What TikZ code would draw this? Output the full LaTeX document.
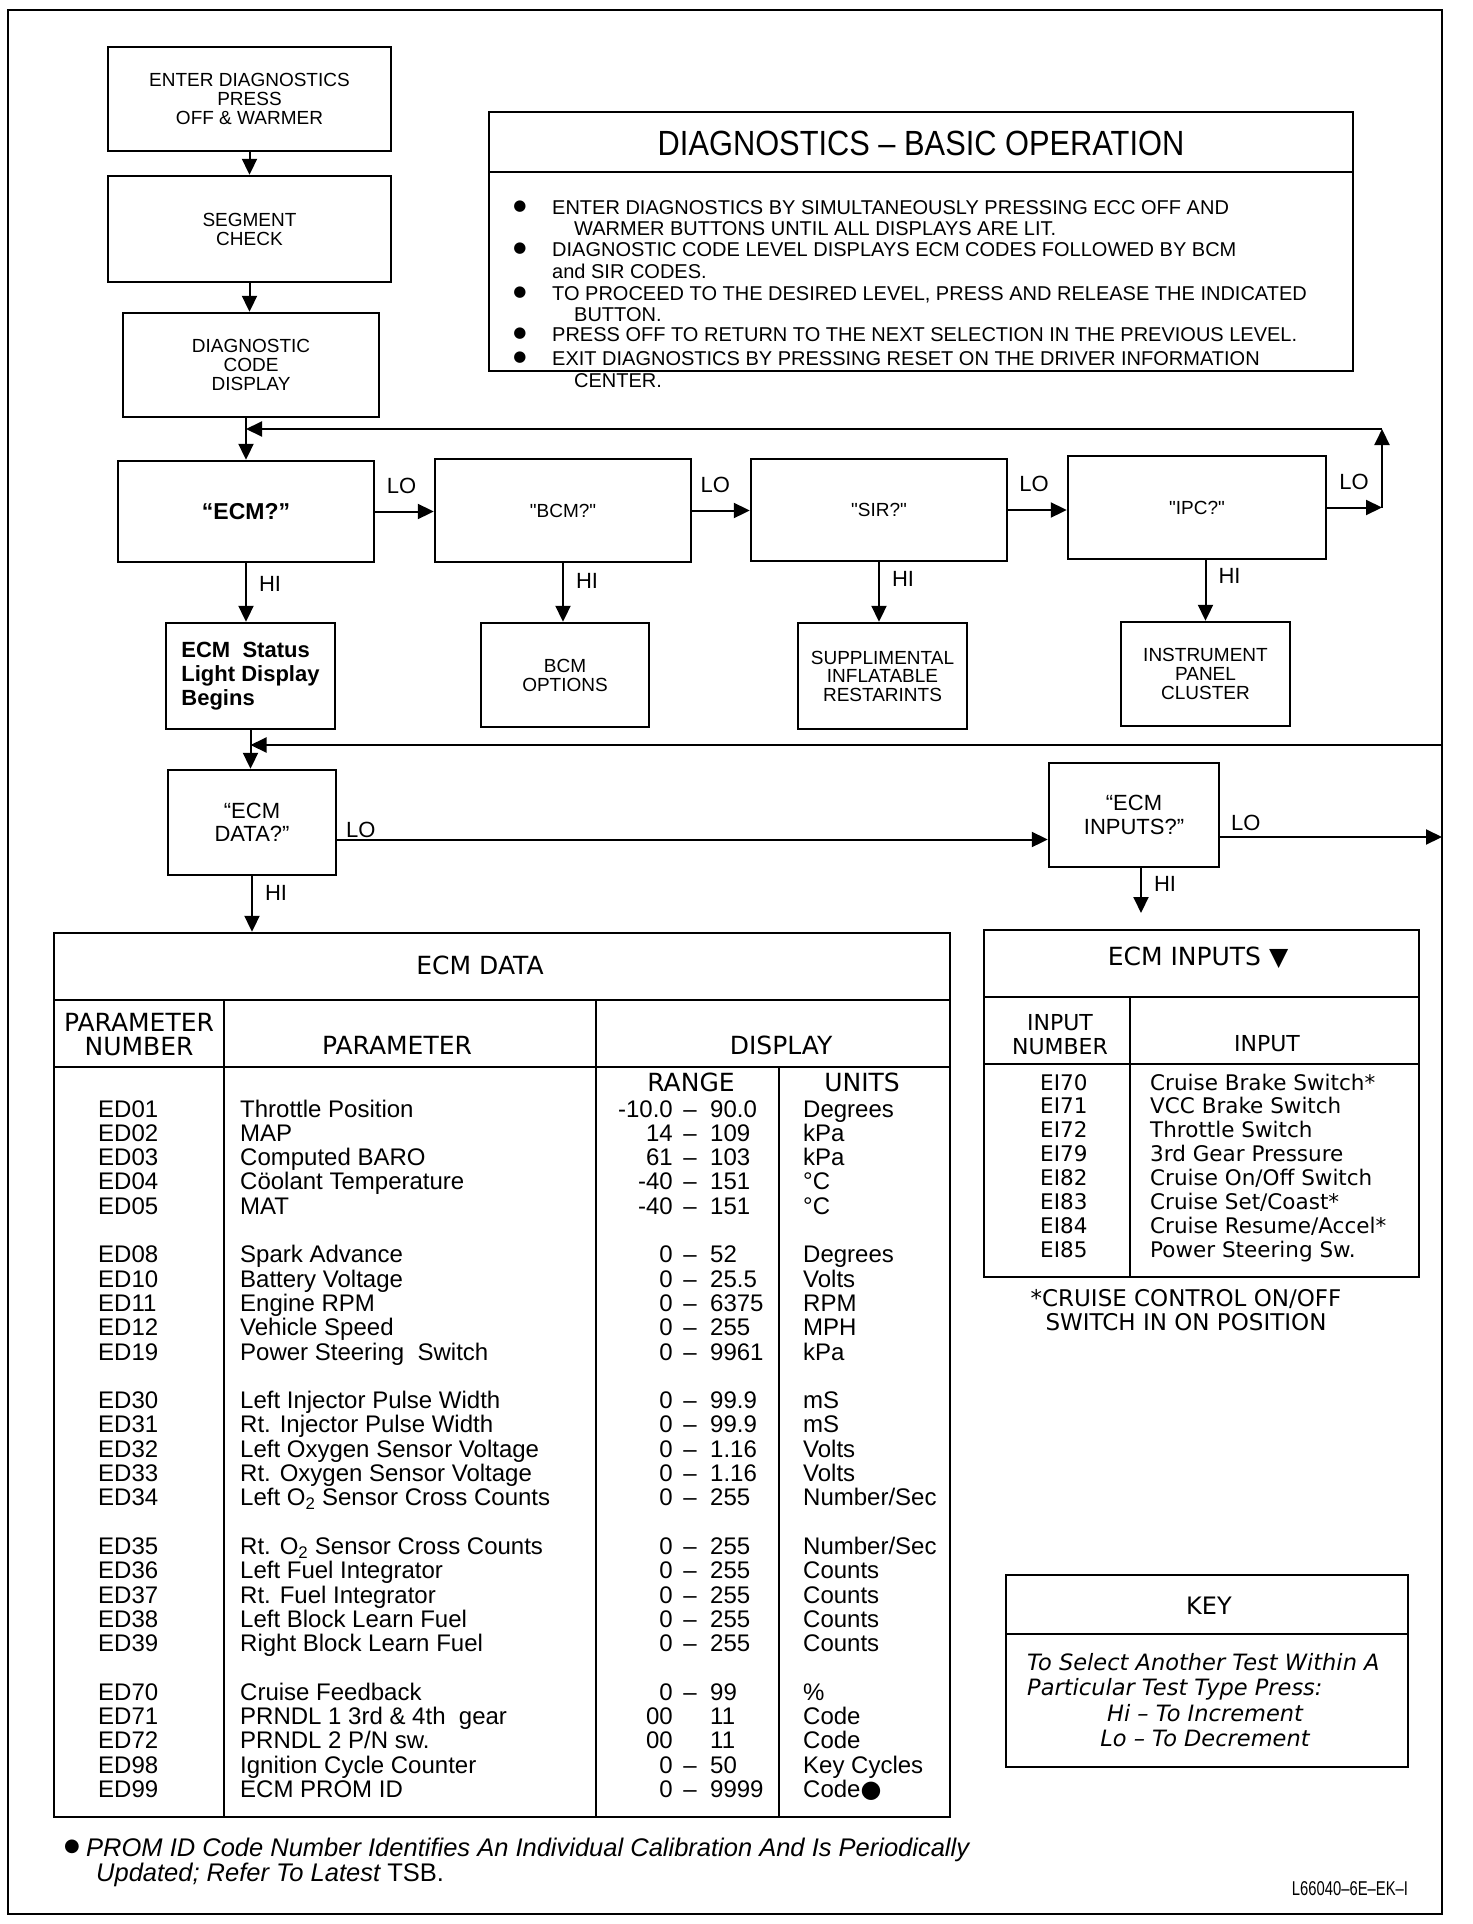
\documentclass[tikz,border=0pt]{standalone}
\usepackage{fontspec}
\setmainfont{Liberation Sans}[Ligatures=TeXOff]
\newfontfamily\widefont{DejaVu Sans}
\newfontfamily\narrowfont{Liberation Sans}[FakeStretch=0.88]
\newfontfamily\idfont{Liberation Sans}[FakeStretch=0.74]
\usetikzlibrary{arrows.meta, positioning}
\newcommand\fsz[2]{\fontsize{#1}{#2}\selectfont}
\tikzset{
  flowbox/.style={draw, line width=2.4pt, inner sep=0pt, align=center,
                  font=\fsz{19}{19}},
  tabbox/.style={draw, line width=2.4pt, inner sep=0pt},
  tabline/.style={line width=2.2pt},
  arr/.style={line width=2pt, -{Triangle[length=16pt,width=15pt]}},
  lohi/.style={font=\fsz{22}{22}, inner sep=2pt},
  hdr/.style={font=\widefont\fsz{25}{25}, inner sep=0pt, align=center},
  datatxt/.style={font=\fsz{24}{24}, inner sep=0pt},
  intxt/.style={font=\widefont\fsz{21.5}{21.5}, inner sep=0pt},
}

\begin{document}
\begin{tikzpicture}[x=1pt, y=-1pt]
  \useasboundingbox (0,0) rectangle (1472,1924);
  \draw[line width=2.5pt] (8,10) rectangle (1442,1914);

  % entry chain
  \node[flowbox, minimum width=283pt, minimum height=104pt] (enter) at (249.5,99)
       {ENTER DIAGNOSTICS\\PRESS\\OFF \& WARMER};
  \node[flowbox, minimum width=283pt, minimum height=106pt] (segment) at (249.5,229)
       {SEGMENT\\CHECK};
  \node[flowbox, minimum width=256pt, minimum height=104pt] (diagcode) at (251,365)
       {DIAGNOSTIC\\CODE\\DISPLAY};
  \draw[arr] (enter.south) -- (enter.south |- segment.north);
  \draw[arr] (segment.south) -- (segment.south |- diagcode.north);

  % basic operation notes
  \node[tabbox, minimum width=864pt, minimum height=259pt] (opbox) at (921,241.5) {};
  \draw[tabline] (489,172) -- (1353,172);
  \node[font=\narrowfont\fsz{35}{35}, inner sep=0pt] (optitle) at (921,143)
       {DIAGNOSTICS – BASIC OPERATION};
  \foreach \j/\y in {1/207, 2/249, 3/293, 4/334, 5/358} {
    \node[font=\widefont\fsz{15}{15}, inner sep=0pt] (bul\j) at (520,\y) {●};
  }
  \foreach \j/\x/\y/\t in {
      a/552/207/ENTER DIAGNOSTICS BY SIMULTANEOUSLY PRESSING ECC OFF AND,
      b/574/228/WARMER BUTTONS UNTIL ALL DISPLAYS ARE LIT.,
      c/552/249/DIAGNOSTIC CODE LEVEL DISPLAYS ECM CODES FOLLOWED BY BCM,
      d/552/271/and SIR CODES.,
      e/552/293/{TO PROCEED TO THE DESIRED LEVEL, PRESS AND RELEASE THE INDICATED},
      f/574/314/BUTTON.,
      g/552/334/PRESS OFF TO RETURN TO THE NEXT SELECTION IN THE PREVIOUS LEVEL.,
      h/552/358/EXIT DIAGNOSTICS BY PRESSING RESET ON THE DRIVER INFORMATION,
      i/574/380/CENTER.} {
    \node[font=\fsz{20}{20}, inner sep=0pt, anchor=base west] (op\j) at (\x,\y+7) {\t};
  }

  % first selection level
  \node[flowbox, minimum width=256pt, minimum height=101pt, font=\bfseries\fsz{23}{23}]
       (ecm) at (246,511.5) {“ECM?”};
  \node[flowbox, minimum width=256pt, minimum height=103pt] (bcm) at (563,510.5) {"BCM?"};
  \node[flowbox, minimum width=256pt, minimum height=102pt] (sir) at (879,510) {"SIR?"};
  \node[flowbox, minimum width=258pt, minimum height=103pt] (ipc) at (1197,507.5) {"IPC?"};

  \node[flowbox, minimum width=169pt, minimum height=106pt, align=left,
        font=\bfseries\fsz{22}{24}] (status) at (250.5,676)
       {ECM\ \ Status\\Light Display\\Begins};
  \node[flowbox, minimum width=168pt, minimum height=104pt] (bcmopt) at (565,675)
       {BCM\\OPTIONS};
  \node[flowbox, minimum width=169pt, minimum height=106pt, font=\fsz{19}{18.5}]
       (sirbox) at (882.5,676) {SUPPLIMENTAL\\INFLATABLE\\RESTARINTS};
  \node[flowbox, minimum width=169pt, minimum height=104pt] (ipcbox) at (1205.5,674)
       {INSTRUMENT\\PANEL\\CLUSTER};

  \coordinate (loopTR) at (1382,429);
  \coordinate (loopBR) at (1442,745);
  \draw[arr] (ecm.north |- diagcode.south) -- (ecm.north);
  \draw[arr] (ecm.east) -- node[lohi, above=15pt, pos=.45] (lo1) {LO} (ecm.east -| bcm.west);
  \draw[arr] (bcm.east) -- node[lohi, above=15pt, pos=.4] (lo2) {LO} (bcm.east -| sir.west);
  \draw[arr] (sir.east) -- node[lohi, above=15pt, pos=.44] (lo3) {LO} (sir.east -| ipc.west);
  \draw[arr] (ipc.east) -- node[lohi, above=15pt, pos=.49] (lo4) {LO} (ipc.east -| loopTR);
  \draw[arr] (ipc.east -| loopTR) -- (loopTR);
  \draw[arr] (loopTR) -- (ecm.north |- loopTR);

  \draw[arr] (ecm.south) -- node[lohi, right=10pt, pos=.35] (hi1) {HI} (ecm.south |- status.north);
  \draw[arr] (bcm.south) -- node[lohi, right=10pt, pos=.3] (hi2) {HI} (bcm.south |- bcmopt.north);
  \draw[arr] (sir.south) -- node[lohi, right=10pt, pos=.28] (hi3) {HI} (sir.south |- sirbox.north);
  \draw[arr] (ipcbox.north |- ipc.south) -- node[lohi, right=10pt, pos=.26] (hi4) {HI} (ipcbox.north);

  % second selection level
  \node[flowbox, minimum width=168pt, minimum height=105pt, font=\fsz{22}{23}]
       (ecmdata) at (252,822.5) {“ECM\\DATA?”};
  \node[flowbox, minimum width=170pt, minimum height=104pt, font=\fsz{22}{24}]
       (ecminputs) at (1134,815) {“ECM\\INPUTS?”};
  \draw[arr] (loopBR) -- (status.south |- loopBR);
  \draw[arr] (status.south) -- (status.south |- ecmdata.north);
  \draw[arr] ([yshift=-17pt]ecmdata.east) --
       node[lohi, anchor=south west, pos=0, xshift=6pt, yshift=-1pt] (lo5) {LO}
       ([yshift=-17pt]ecmdata.east -| ecminputs.west);
  \draw[arr] ([yshift=-22pt]ecminputs.east) --
       node[lohi, anchor=south west, pos=0, xshift=8pt, yshift=3pt] (lo6) {LO}
       ([yshift=-22pt]ecminputs.east -| loopBR);

  % ECM data table
  \node[tabbox, minimum width=896pt, minimum height=884pt] (dtab) at (502,1375) {};
  \draw[tabline] (54,1000) -- (950,1000);
  \draw[tabline] (54,1067) -- (950,1067);
  \draw[tabline] (224,1000) -- (224,1817);
  \draw[tabline] (596,1000) -- (596,1817);
  \draw[tabline] (779,1067) -- (779,1817);
  \draw[arr] (ecmdata.south) -- node[lohi, right=10pt, pos=.3] (hi5) {HI} (ecmdata.south |- dtab.north);
  \node[hdr] (dtitle) at (480,965) {ECM DATA};
  \node[hdr, font=\widefont\fsz{25}{24}] (hnum) at (139,1035) {PARAMETER\\NUMBER};
  \node[hdr] (hpar) at (397,1045) {PARAMETER};
  \node[hdr] (hdisp) at (781,1045) {DISPLAY};
  \node[hdr] (hrange) at (691,1082) {RANGE};
  \node[hdr] (hunits) at (862,1082) {UNITS};
  \foreach \i/\pn/\pname/\rlo/\rd/\rhi/\ru in {
      0/ED01/Throttle Position/-10.0/–/90.0/Degrees,
      1/ED02/MAP/14/–/109/kPa,
      2/ED03/Computed BARO/61/–/103/kPa,
      3/ED04/Cöolant Temperature/-40/–/151/°C,
      4/ED05/MAT/-40/–/151/°C,
      6/ED08/Spark Advance/0/–/52/Degrees,
      7/ED10/Battery Voltage/0/–/25.5/Volts,
      8/ED11/Engine RPM/0/–/6375/RPM,
      9/ED12/Vehicle Speed/0/–/255/MPH,
      10/ED19/Power Steering\ \ Switch/0/–/9961/kPa,
      12/ED30/Left Injector Pulse Width/0/–/99.9/mS,
      13/ED31/Rt. Injector Pulse Width/0/–/99.9/mS,
      14/ED32/Left Oxygen Sensor Voltage/0/–/1.16/Volts,
      15/ED33/Rt. Oxygen Sensor Voltage/0/–/1.16/Volts,
      16/ED34/Left O\textsubscript{2} Sensor Cross Counts/0/–/255/{Number/Sec},
      18/ED35/Rt. O\textsubscript{2} Sensor Cross Counts/0/–/255/{Number/Sec},
      19/ED36/Left Fuel Integrator/0/–/255/Counts,
      20/ED37/Rt. Fuel Integrator/0/–/255/Counts,
      21/ED38/Left Block Learn Fuel/0/–/255/Counts,
      22/ED39/Right Block Learn Fuel/0/–/255/Counts,
      24/ED70/Cruise Feedback/0/–/99/\%,
      25/ED71/PRNDL 1 3rd \& 4th\ \ gear/00/{}/11/Code,
      26/ED72/{PRNDL 2 P/N sw.}/00/{}/11/Code,
      27/ED98/Ignition Cycle Counter/0/–/50/Key Cycles,
      28/ED99/ECM PROM ID/0/–/9999/Code{\widefont ●}} {
    \node[datatxt, anchor=base west] (pn\i) at (98,1117+24.3*\i) {\pn};
    \node[datatxt, anchor=base west] (pname\i) at (240,1117+24.3*\i) {\pname};
    \node[datatxt, anchor=base east] (rlo\i) at (673,1117+24.3*\i) {\rlo};
    \node[datatxt, anchor=base] (rd\i) at (690,1117+24.3*\i) {\rd};
    \node[datatxt, anchor=base west] (rhi\i) at (710,1117+24.3*\i) {\rhi};
    \node[datatxt, anchor=base west] (ru\i) at (803,1117+24.3*\i) {\ru};
  }

  % ECM inputs table
  \node[tabbox, minimum width=435pt, minimum height=347pt] (itab) at (1201.5,1103.5) {};
  \draw[tabline] (984,997) -- (1419,997);
  \draw[tabline] (984,1064) -- (1419,1064);
  \draw[tabline] (1130,997) -- (1130,1277);
  \coordinate (inhi) at (1141,913);
  \draw[arr] (ecminputs.south -| inhi) -- node[lohi, right=10pt, pos=.35] (hi6) {HI} (inhi);
  \node[hdr] (ititle) at (1198,958) {ECM INPUTS ▼};
  \node[hdr, font=\widefont\fsz{22}{24}] (hinnum) at (1060,1035) {INPUT\\NUMBER};
  \node[hdr, font=\widefont\fsz{22}{24}] (hin) at (1267,1044) {INPUT};
  \foreach \i/\pn/\pname in {
      0/EI70/Cruise Brake Switch*,
      1/EI71/VCC Brake Switch,
      2/EI72/Throttle Switch,
      3/EI79/3rd Gear Pressure,
      4/EI82/{Cruise On/Off Switch},
      5/EI83/{Cruise Set/Coast*},
      6/EI84/{Cruise Resume/Accel*},
      7/EI85/Power Steering Sw.} {
    \node[intxt, anchor=base west] (in\i) at (1040,1090+23.9*\i) {\pn};
    \node[intxt, anchor=base west] (inname\i) at (1150,1090+23.9*\i) {\pname};
  }
  \node[font=\widefont\fsz{23}{24}, align=center, inner sep=0pt] (cruise) at (1186,1310)
       {*CRUISE CONTROL ON/OFF\\SWITCH IN ON POSITION};

  % key
  \node[tabbox, minimum width=402pt, minimum height=192pt] (keybox) at (1207,1671) {};
  \draw[tabline] (1006,1634) -- (1408,1634);
  \node[hdr, font=\widefont\fsz{24}{24}] (keyt) at (1209,1606) {KEY};
  \node[font=\widefont\itshape\fsz{22.5}{25}, align=left, inner sep=0pt, anchor=west]
       (keya) at (1027,1677) {To Select Another Test Within A\\Particular Test Type Press:};
  \node[font=\widefont\itshape\fsz{22.5}{25}, align=center, inner sep=0pt]
       (keyb) at (1205,1726) {Hi – To Increment\\Lo – To Decrement};

  % footnote and figure id
  \node[font=\widefont\fsz{18}{18}, inner sep=0pt] (dot) at (72,1847) {●};
  \node[font=\itshape\fsz{25.5}{25.5}, inner sep=0pt, anchor=base west] (note1) at (86,1856)
       {PROM ID Code Number Identifies An Individual Calibration And Is Periodically};
  \node[font=\itshape\fsz{25.5}{25.5}, inner sep=0pt, anchor=base west] (note2) at (96,1881)
       {Updated; Refer To Latest {\upshape TSB.}};
  \node[font=\idfont\fsz{20}{20}, inner sep=0pt] (figid) at (1350,1889) {L66040–6E–EK–I};
\end{tikzpicture}
\end{document}
